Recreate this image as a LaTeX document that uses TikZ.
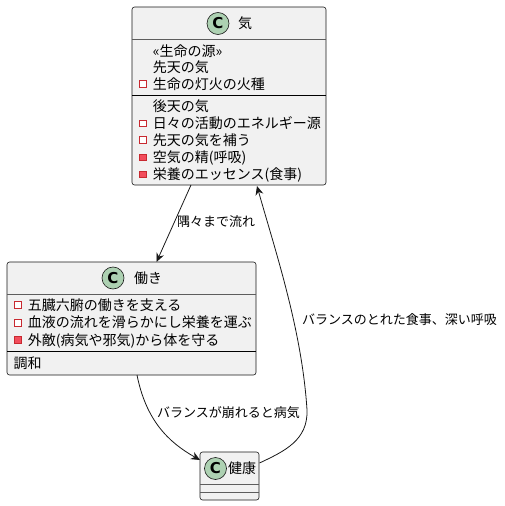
\documentclass[tikz,border=0pt]{standalone}
\usepackage{fontspec}
\setmainfont{Noto Sans CJK JP}
\newfontfamily\cfont{DejaVu Sans}
\usetikzlibrary{arrows.meta}
\definecolor{boxfill}{HTML}{F1F1F1}
\definecolor{boxline}{HTML}{181818}
\definecolor{cfill}{HTML}{ADD1B2}
\definecolor{privline}{HTML}{C82930}
\definecolor{privfill}{HTML}{F24D5C}
\tikzset{
  classbox/.style={draw=boxline, fill=boxfill, line width=0.6pt, rounded corners=2.5pt},
  hsep/.style={draw=boxline!70, line width=0.6pt},
  bsep/.style={draw=black, line width=1pt},
  member/.style={anchor=west, inner sep=0pt, text height=12pt, text depth=1.5pt, font=\fontsize{14}{16}\selectfont},
  cname/.style={inner sep=0pt, text height=12pt, text depth=1.5pt, font=\fontsize{14}{16}\selectfont},
  elabel/.style={inner sep=0pt, text height=11pt, text depth=1.5pt, font=\fontsize{13}{15}\selectfont},
  ccircle/.style={circle, draw=boxline, fill=cfill, line width=0.6pt, minimum size=22pt, inner sep=0pt, font=\cfont\bfseries\fontsize{15}{15}\selectfont},
  privo/.style={draw=privline, fill=white, line width=0.8pt, minimum size=6.5pt, inner sep=0pt},
  privf/.style={draw=privline, fill=privfill, line width=0.8pt, minimum size=6.5pt, inner sep=0pt},
  edge/.style={draw=boxline, line width=0.8pt, -{Stealth[length=9pt,width=8pt,inset=3pt]}},
}
\begin{document}
\begin{tikzpicture}[x=1pt,y=-1pt]
\useasboundingbox (0,0) rectangle (504,506);
% class 気
\draw[classbox] (132,7) rectangle (326,185);
\draw[hsep] (132,39) -- (326,39);
\draw[bsep] (132,95) -- (326,95);
\node[ccircle] (kiC) at (218,23.5) {C};
\node[cname] (kiN) at (245,23.5) {気};
\node[member] (k1) at (152.7,51.5) {«生命の源»};
\node[member] (k2) at (152.7,67) {先天の気};
\node[privo] (k3i) at (143,84) {};
\node[member] (k3) at (152.7,84) {生命の灯火の火種};
\node[member] (k4) at (152.7,106.5) {後天の気};
\node[privo] (k5i) at (143,123.3) {};
\node[member] (k5) at (152.7,123.3) {日々の活動のエネルギー源};
\node[privo] (k6i) at (143,140) {};
\node[member] (k6) at (152.7,140) {先天の気を補う};
\node[privf] (k7i) at (143,157.5) {};
\node[member] (k7) at (152.7,157.5) {空気の精(呼吸)};
\node[privf] (k8i) at (143,174.3) {};
\node[member] (k8) at (152.7,174.3) {栄養のエッセンス(食事)};
% class 働き
\draw[classbox] (7,262) rectangle (256,375);
\draw[hsep] (7,294) -- (256,294);
\draw[bsep] (7,351) -- (256,351);
\node[ccircle] (haC) at (113,278) {C};
\node[cname] (haN) at (148,278) {働き};
\node[privo] (h1i) at (18,305) {};
\node[member] (h1) at (27.7,305) {五臓六腑の働きを支える};
\node[privo] (h2i) at (18,322.7) {};
\node[member] (h2) at (27.7,322.7) {血液の流れを滑らかにし栄養を運ぶ};
\node[privf] (h3i) at (18,340) {};
\node[member] (h3) at (27.7,340) {外敵(病気や邪気)から体を守る};
\node[member] (h4) at (13.3,363) {調和};
% class 健康
\draw[classbox] (200,452) rectangle (259,500);
\draw[hsep] (200,484) -- (259,484);
\draw[hsep] (200,492) -- (259,492);
\node[ccircle] (keC) at (215.5,468.5) {C};
\node[cname, anchor=west] (keN) at (228,468.5) {健康};
% edge anchors
\coordinate (e1s) at (191,185);
\coordinate (e1t) at (156.5,262);
\coordinate (e2s) at (137,375);
\coordinate (e2t) at (200,460);
\coordinate (e3s) at (259.5,463);
\coordinate (e3m) at (307,410);
\coordinate (e3t) at (257,186);
\draw[edge] (e1s) -- (e1t);
\draw[edge] (e2s) .. controls (146,420) and (168,442) .. (e2t);
\draw[edge] (e3s) .. controls (285,451) and (308,440) .. (e3m) .. controls (302,330) and (275,250) .. (e3t);
% labels
\node[elabel, anchor=west] (l1) at (177,222) {隅々まで流れ};
\node[elabel, anchor=west] (l2) at (157,413) {バランスが崩れると病気};
\node[elabel, anchor=west] (l3) at (302,319.5) {バランスのとれた食事、深い呼吸};
\end{tikzpicture}
\end{document}
